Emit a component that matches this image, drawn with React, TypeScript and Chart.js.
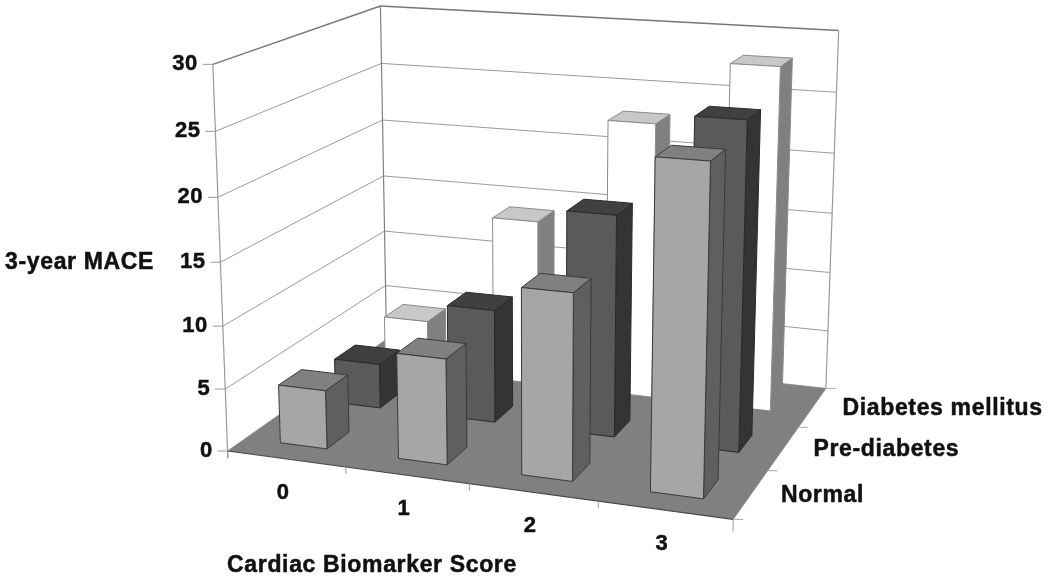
import React, { useEffect, useRef } from "react";
import { Chart, registerables } from "chart.js";

Chart.register(...registerables);

const categories = ["0", "1", "2", "3"];
const rowLabels = ["Normal", "Pre-diabetes", "Diabetes mellitus"];
const normalValues = [4.7, 8.35, 14.45, 24.9];
const preDiabetesValues = [3.7, 9.25, 17.8, 25.85];
const diabetesValues = [4.4, 14, 22.9, 28.1];
const yTickStep = 5;
const yMax = 30;
const xTitle = "Cardiac Biomarker Score";
const yTitle = "3-year MACE";

const FONT = '"Liberation Sans", Arial, sans-serif';

// Projection calibration of the axis box: [X, Y, Z] (unit box) -> [px, py]
const frame: number[][] = [
  [0, 0, 0, 228.3, 449.3],
  [0.25, 0, 0, 346, 468],
  [0.5, 0, 0, 468, 484],
  [0.75, 0, 0, 598, 503],
  [1, 0, 0, 733.3, 519.3],
  [1, 0, 1 / 3, 768, 470],
  [1, 0, 2 / 3, 798, 427],
  [1, 0, 1, 826, 387.7],
  [0, 0, 1, 387, 341],
  [0, 1, 0, 212.7, 64],
  [0, 1, 1, 380, 6],
  [1, 1, 1, 839.3, 32],
  [1, 0.5, 1, 832, 212],
  [0, 0.5, 1, 383, 175],
  [0, 0.5, 0, 221, 262],
];

function solveProjection(pts: number[][]): number[] {
  const n = 11;
  const A: number[][] = Array.from({ length: n }, () => new Array(n + 1).fill(0));
  const add = (row: number[], rhs: number) => {
    for (let i = 0; i < n; i++) {
      for (let j = 0; j < n; j++) A[i][j] += row[i] * row[j];
      A[i][n] += row[i] * rhs;
    }
  };
  for (const [X, Y, Z, u, v] of pts) {
    add([X, Y, Z, 1, 0, 0, 0, 0, -u * X, -u * Y, -u * Z], u);
    add([0, 0, 0, 0, X, Y, Z, 1, -v * X, -v * Y, -v * Z], v);
  }
  for (let c = 0; c < n; c++) {
    let best = c;
    for (let r = c + 1; r < n; r++) if (Math.abs(A[r][c]) > Math.abs(A[best][c])) best = r;
    [A[c], A[best]] = [A[best], A[c]];
    for (let r = 0; r < n; r++) {
      if (r === c) continue;
      const f = A[r][c] / A[c][c];
      for (let k = c; k <= n; k++) A[r][k] -= f * A[c][k];
    }
  }
  return A.map((row, i) => row[n] / row[i]);
}

const P = solveProjection(frame);
const project = (X: number, Y: number, Z: number): [number, number] => {
  const w = P[8] * X + P[9] * Y + P[10] * Z + 1;
  return [
    (P[0] * X + P[1] * Y + P[2] * Z + P[3]) / w,
    (P[4] * X + P[5] * Y + P[6] * Z + P[7]) / w,
  ];
};

const BAR_HALF = 0.2; // 150% gap width, as fraction of a cell
const rowCount = rowLabels.length;

const palette = [
  { front: "#a6a6a6", top: "#808080", side: "#5f5f5f", edge: "#3a3a3a" },
  { front: "#5a5a5a", top: "#404040", side: "#343434", edge: "#2a2a2a" },
  { front: "#ffffff", top: "#c8c8c8", side: "#808080", edge: "#8a8a8a" },
];

function poly(ctx: CanvasRenderingContext2D, pts: [number, number][], fill: string | null, stroke: string | null, lw = 1) {
  ctx.beginPath();
  pts.forEach((p, i) => (i ? ctx.lineTo(p[0], p[1]) : ctx.moveTo(p[0], p[1])));
  ctx.closePath();
  if (fill) {
    ctx.fillStyle = fill;
    ctx.fill();
  }
  if (stroke) {
    ctx.strokeStyle = stroke;
    ctx.lineWidth = lw;
    ctx.stroke();
  }
}

function seg(ctx: CanvasRenderingContext2D, a: [number, number], b: [number, number], color: string, lw = 1) {
  ctx.beginPath();
  ctx.moveTo(a[0], a[1]);
  ctx.lineTo(b[0], b[1]);
  ctx.strokeStyle = color;
  ctx.lineWidth = lw;
  ctx.stroke();
}

function heavyText(ctx: CanvasRenderingContext2D, s: string, x: number, y: number) {
  ctx.fillText(s, x, y);
  ctx.strokeText(s, x, y);
}

const label3d = {
  id: "label3d",
  afterDatasetsDraw(chart: any) {
    const { ctx, chartArea, scales } = chart;
    const xs = scales.x;
    const ys = scales.y;
    const fy = (v: number) => (chartArea.bottom - ys.getPixelForValue(v)) / (chartArea.bottom - chartArea.top);
    const fx = (i: number) => (xs.getPixelForValue(i) - chartArea.left) / (chartArea.right - chartArea.left);
    const cell = 1 / categories.length;
    const gridColor = "#9a9a9a";

    ctx.save();
    ctx.lineJoin = "round";

    // walls' frame and gridlines
    const tickVals: number[] = ys.ticks.map((t: any) => t.value);
    for (const v of tickVals) {
      const t = fy(v);
      const a = project(0, t, 0);
      const b = project(0, t, 1);
      const c = project(1, t, 1);
      seg(ctx, [a[0] - 10, a[1]], a, gridColor);
      seg(ctx, a, b, v === yMax ? "#777" : gridColor, v === yMax ? 1.4 : 1);
      seg(ctx, b, c, v === yMax ? "#777" : gridColor, v === yMax ? 1.4 : 1);
    }
    seg(ctx, project(0, 1, 0), project(0, -0.02, 0), gridColor, 1.2);
    seg(ctx, project(0, 1, 1), project(0, 0, 1), "#808080", 1.2);
    seg(ctx, project(1, 1, 1), project(1, 0, 1), gridColor, 1.2);

    // floor
    poly(ctx, [project(0, 0, 0), project(1, 0, 0), project(1, 0, 1), project(0, 0, 1)], "#808080", null);
    seg(ctx, project(0, 0, 0), project(1, 0, 0), "#4a4a4a", 1.2);
    seg(ctx, project(1, 0, 0), project(1, 0, 1), "#8c8c8c", 1);

    // axis tick marks
    for (let i = 0; i <= categories.length; i++) {
      const p = project(i * cell, 0, 0);
      seg(ctx, p, [p[0], p[1] + (i === categories.length ? 12 : 7)], "#999");
    }
    for (let r = 0; r <= rowCount; r++) {
      const p = project(1, 0, r / rowCount);
      seg(ctx, p, [p[0] + 10, p[1]], "#aaa");
    }

    // cuboids: back row first, left to right
    const rows = chart.data.datasets.map((d: any, r: number) => ({ d, r })).reverse();
    for (const { d, r } of rows) {
      const c = palette[r];
      const z0 = (r + 0.5 - BAR_HALF) / rowCount;
      const z1 = (r + 0.5 + BAR_HALF) / rowCount;
      d.data.forEach((value: number, i: number) => {
        const cx = fx(i);
        const x0 = cx - BAR_HALF * cell;
        const x1 = cx + BAR_HALF * cell;
        const h = fy(value);
        const flb = project(x0, 0, z0);
        const frb = project(x1, 0, z0);
        const brb = project(x1, 0, z1);
        const flt = project(x0, h, z0);
        const frt = project(x1, h, z0);
        const brt = project(x1, h, z1);
        const blt = project(x0, h, z1);
        poly(ctx, [frb, brb, brt, frt], c.side, c.edge);
        poly(ctx, [flt, frt, brt, blt], c.top, c.edge);
        poly(ctx, [flb, frb, frt, flt], c.front, c.edge);
      });
    }

    // texts
    ctx.fillStyle = "#111";
    ctx.strokeStyle = "#111";
    ctx.lineWidth = 0.5;
    ctx.textBaseline = "middle";
    ctx.font = `bold 22px ${FONT}`;
    ctx.letterSpacing = "0.5px";
    ctx.textAlign = "right";
    ys.ticks.forEach((t: any) => {
      const p = project(0, fy(t.value), 0);
      heavyText(ctx, String(t.value), p[0] - 15, p[1]);
    });
    ctx.textAlign = "center";
    categories.forEach((label, i) => {
      const p = project(fx(i), 0, 0);
      heavyText(ctx, label, p[0] - 3, p[1] + 34);
    });
    ctx.font = `bold 23px ${FONT}`;
    ctx.letterSpacing = "0.65px";
    ctx.textAlign = "left";
    rowLabels.forEach((label, r) => {
      const p = project(1, 0, (r + 0.5) / rowCount);
      heavyText(ctx, label, p[0] + 30, p[1] + 1);
    });
    heavyText(ctx, yTitle, 5, 263);
    ctx.textAlign = "center";
    heavyText(ctx, xTitle, 372, 566);
    ctx.restore();
  },
};

export default function App() {
  const ref = useRef<HTMLCanvasElement | null>(null);
  useEffect(() => {
    document.body.style.margin = "0";
    const chart = new Chart(ref.current as HTMLCanvasElement, {
      type: "bar",
      data: {
        labels: categories,
        datasets: [
          { label: rowLabels[0], data: normalValues, backgroundColor: "rgba(0,0,0,0)" },
          { label: rowLabels[1], data: preDiabetesValues, backgroundColor: "rgba(0,0,0,0)" },
          { label: rowLabels[2], data: diabetesValues, backgroundColor: "rgba(0,0,0,0)" },
        ],
      },
      options: {
        responsive: false,
        animation: false,
        events: [],
        layout: { padding: { left: 228, right: 317, top: 64, bottom: 129 } },
        plugins: { legend: { display: false }, tooltip: { enabled: false } },
        scales: {
          x: { display: false },
          y: { display: false, min: 0, max: yMax, ticks: { stepSize: yTickStep } },
        },
      },
      plugins: [label3d],
    } as any);
    return () => chart.destroy();
  }, []);
  return (
    <div style={{ width: 1050, height: 578, background: "#fff" }}>
      <canvas ref={ref} width={1050} height={578} style={{ display: "block", filter: "blur(0.7px)" }} />
    </div>
  );
}
